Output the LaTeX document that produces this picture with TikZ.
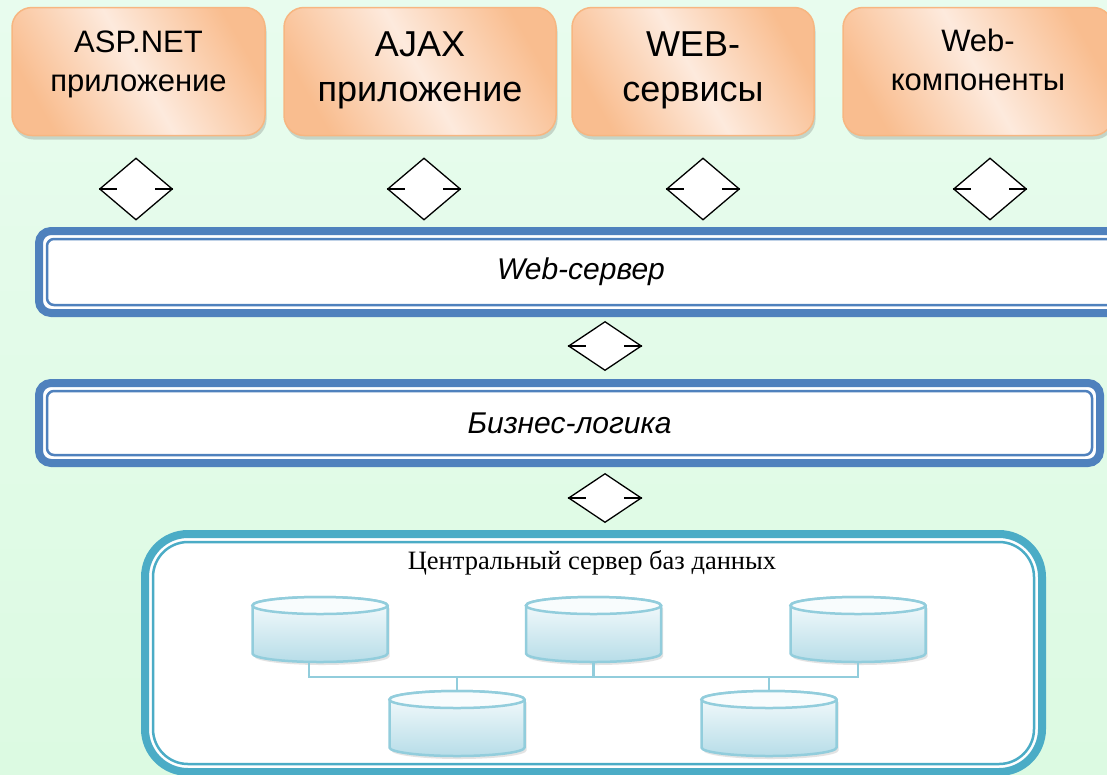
\documentclass[tikz,border=0pt]{standalone}
\usepackage{fontspec}
\setmainfont{Liberation Sans}
\newfontfamily\dbserif{Liberation Serif}
\usetikzlibrary{shapes.geometric, shadows, positioning, calc}
\definecolor{MintTop}{HTML}{E8FCEE}
\definecolor{MintBottom}{HTML}{DCFAE2}
\definecolor{AppDark}{HTML}{F9BD8F}
\definecolor{AppLight}{HTML}{FDEADD}
\definecolor{AppEdge}{HTML}{F7B681}
\definecolor{BarBlue}{HTML}{4F81BD}
\definecolor{DbTeal}{HTML}{4BACC6}
\definecolor{CylEdge}{HTML}{92CDDC}
\definecolor{CylTop}{HTML}{F8FCFD}
\definecolor{CylBottom}{HTML}{B7DDE8}

\begin{document}
\begin{tikzpicture}[x=1pt, y=-1pt]
    \tikzset{
        appbox/.style={rectangle, rounded corners=20pt, draw=AppEdge, line width=1.5pt,
            left color=AppDark, right color=AppDark, middle color=AppLight, shading angle=120,
            minimum height=128pt, inner sep=0pt,
            drop shadow={shadow xshift=1.5pt, shadow yshift=-4pt, opacity=0.22, fill=black!70}},
        apptext/.style={align=center, inner sep=0pt, font=\fontsize{31}{39}\selectfont},
        apptextbig/.style={apptext, font=\fontsize{36}{45}\selectfont},
        linktick/.style={draw=black, line width=1.3pt},
        linkdiamond/.style={diamond, draw=black, fill=white, line width=1.3pt,
            minimum width=73pt, minimum height=62pt, inner sep=0pt,
            append after command={(\tikzlastnode.west) edge[linktick] ++(18pt,0pt)
                (\tikzlastnode.east) edge[linktick] ++(-18pt,0pt)}},
        layerbar/.style={rectangle, draw=BarBlue, line width=8pt, fill=white,
            rounded corners=12pt, inner sep=0pt, font=\itshape\fontsize{30}{36}\selectfont,
            path picture={\draw[BarBlue, line width=2.5pt, rounded corners=7pt]
                ([shift={(8pt,-8pt)}]path picture bounding box.north west) rectangle
                ([shift={(-8pt,8pt)}]path picture bounding box.south east);}},
        dbframe/.style={rectangle, draw=DbTeal, line width=8pt, fill=white,
            rounded corners=43pt, inner sep=0pt,
            path picture={\draw[DbTeal, line width=2.5pt, rounded corners=35pt]
                ([shift={(8pt,-8pt)}]path picture bounding box.north west) rectangle
                ([shift={(-8pt,8pt)}]path picture bounding box.south east);}},
        dbtitle/.style={inner sep=0pt, font=\dbserif\fontsize{26.5}{30}\selectfont},
        diskbody/.style={draw=CylEdge, line width=2.5pt, top color=CylTop, bottom color=CylBottom,
            drop shadow={shadow xshift=2pt, shadow yshift=-3pt, opacity=0.18, fill=black!60}},
        disktop/.style={draw=CylEdge, line width=2.5pt, fill=CylTop},
        dbdisk/.pic={
            \path[diskbody] (-67.5,-24) -- (-67.5,24) arc (180:0:67.5 and 8.5)
                -- (67.5,-24) arc (0:-180:67.5 and 8.5) -- cycle;
            \draw[disktop] (0,-24) ellipse (67.5 and 8.5);
            \coordinate (-top) at (0,-32.5);
            \coordinate (-bottom) at (0,32.5);
        },
        dblink/.style={draw=CylEdge, line width=2.5pt}
    }
    \useasboundingbox (0,0) rectangle (1107,774);
    \fill[top color=MintTop, bottom color=MintBottom] (0,0) rectangle (1107,774);

    % application layer
    \node[appbox, minimum width=253pt] (asp) at (138.5,71.5) {};
    \node[appbox, minimum width=272pt] (ajax) at (420,71.5) {};
    \node[appbox, minimum width=242pt] (websvc) at (693,71.5) {};
    \node[appbox, minimum width=270pt] (webcomp) at (978,71.5) {};
    \node[apptext] (asptext) at ([yshift=7pt]asp.center) {ASP.NET\\приложение};
    \node[apptextbig] (ajaxtext) at ([yshift=1pt]ajax.center) {AJAX\\приложение};
    \node[apptextbig] (websvctext) at ([yshift=1pt]websvc.center) {WEB-\\сервисы};
    \node[apptext] (webcomptext) at ([yshift=12pt]webcomp.center) {Web-\\компоненты};

    \node[linkdiamond] (l1) at (136,189) {};
    \node[linkdiamond] (l2) at (424,189) {};
    \node[linkdiamond] (l3) at (703,189) {};
    \node[linkdiamond] (l4) at (990,189) {};

    % server layers
    \node[layerbar, minimum width=1084pt, minimum height=82pt] (websrv) at (581,272) {Web-сервер};
    \node[linkdiamond, minimum height=49pt] (l5) at (605,346) {};
    \node[layerbar, minimum width=1061pt, minimum height=80pt] (logic) at (569.5,423) {Бизнес-логика};
    \node[linkdiamond, minimum height=49pt] (l6) at (605,498) {};

    % database server
    \node[dbframe, minimum width=897pt, minimum height=238pt] (dbserver) at (593.5,653) {};
    \node[dbtitle, anchor=base] (dbname) at (592,569) {Центральный сервер баз данных};
    \pic (db1) at (320,629.5) {dbdisk};
    \pic (db2) at (593.5,629.5) {dbdisk};
    \pic (db3) at (858,629.5) {dbdisk};
    \pic (db4) at (457,723.5) {dbdisk};
    \pic (db5) at (769,723.5) {dbdisk};
    \coordinate (busL) at (309,677);
    \coordinate (busR) at (858,677);
    \draw[dblink] ([yshift=1pt]db1-bottom -| busL) -- (busL) -- (busR) -- (db3-bottom);
    \draw[dblink] (db2-bottom) -- (db2-bottom |- busL);
    \draw[dblink] (db4-top |- busL) -- (db4-top);
    \draw[dblink] (db5-top |- busL) -- (db5-top);
\end{tikzpicture}
\end{document}
